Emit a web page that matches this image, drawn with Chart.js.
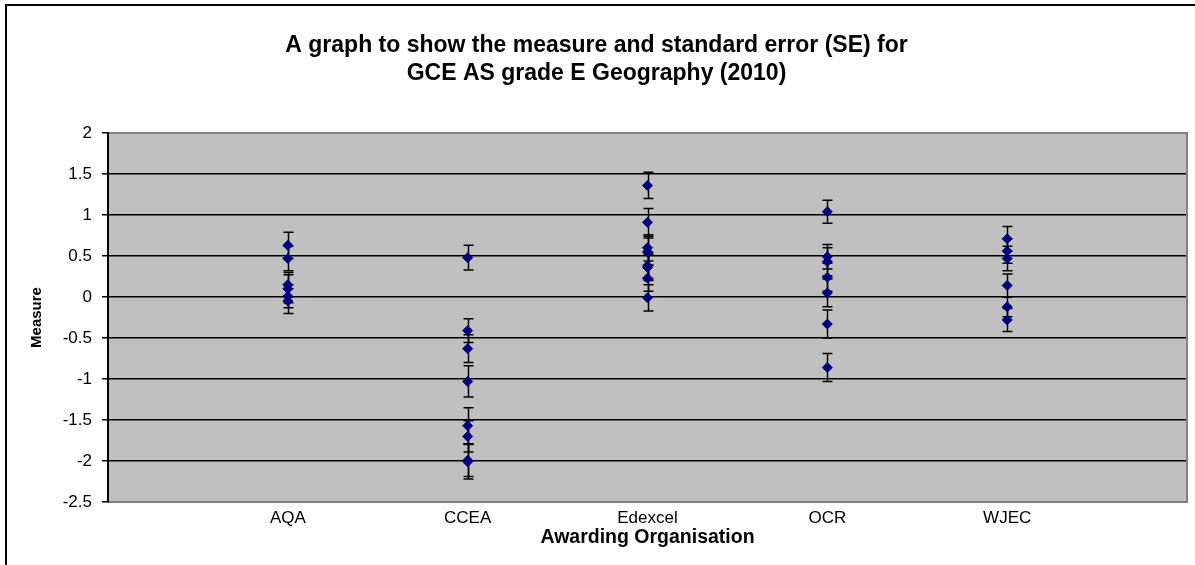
<!DOCTYPE html>
<html lang="en">
<head>
    <meta charset="UTF-8">
    <title>Measure and SE - GCE AS grade E Geography (2010)</title>
    <script src="https://cdn.jsdelivr.net/npm/chart.js"></script>
    <style>
        html, body { margin: 0; padding: 0; background: #fff; }
        #wrap { width: 1195px; height: 565px; }
    </style>
</head>
<body>
    <div id="wrap"><canvas id="seChart"></canvas></div>

    <script>
        // categories (x positions 1..5 on the axis)
        const organisations = ['AQA', 'CCEA', 'Edexcel', 'OCR', 'WJEC'];

        // measure values, one list per organisation
        const aqaMeasure     = [0.63, 0.47, 0.15, 0.10, 0.01, -0.05];
        const ccEaMeasure    = [0.48, -0.41, -0.63, -1.03, -1.57, -1.70, -1.99, -2.01];
        const edexcelMeasure = [1.36, 0.91, 0.60, 0.55, 0.38, 0.36, 0.23, -0.01];
        const ocrMeasure     = [1.04, 0.49, 0.43, 0.24, 0.05, -0.33, -0.86];
        const wjecMeasure    = [0.71, 0.56, 0.47, 0.14, -0.12, -0.28];

        // standard errors, same order as the measures
        const aqaSE     = [0.16, 0.15, 0.15, 0.17, 0.14, 0.15];
        const ccEaSE    = [0.15, 0.145, 0.17, 0.19, 0.22, 0.19, 0.20, 0.21];
        const edexcelSE = [0.16, 0.17, 0.16, 0.17, 0.16, 0.16, 0.16, 0.16];
        const ocrSE     = [0.14, 0.15, 0.17, 0.17, 0.17, 0.17, 0.17];
        const wjecSE    = [0.15, 0.15, 0.15, 0.14, 0.12, 0.14];

        // y axis ticks
        const yMin = -2.5;
        const yMax = 2;
        const yStep = 0.5;

        const measures = [aqaMeasure, ccEaMeasure, edexcelMeasure, ocrMeasure, wjecMeasure];
        const errors = [aqaSE, ccEaSE, edexcelSE, ocrSE, wjecSE];

        const points = [];
        measures.forEach((list, i) => {
            list.forEach((m, j) => {
                points.push({ x: i + 1, y: m, se: errors[i][j] });
            });
        });

        const FONT = "'Liberation Sans', Arial, sans-serif";
        const PLOT_EDGE = '#808080';

        // grey plot background, plot border and outer frame
        const backgroundPlugin = {
            id: 'plotBackground',
            beforeDraw(chart) {
                const { ctx, chartArea: a } = chart;
                ctx.save();
                ctx.fillStyle = '#c0c0c0';
                ctx.fillRect(a.left, a.top, a.right - a.left, a.bottom - a.top);
                // outer frame (only top and left fall inside the picture)
                ctx.strokeStyle = '#000';
                ctx.lineWidth = 2;
                ctx.beginPath();
                ctx.moveTo(6, 600);
                ctx.lineTo(6, 5);
                ctx.lineTo(1300, 5);
                ctx.stroke();
                ctx.restore();
            },
            afterDraw(chart) {
                const { ctx, chartArea: a } = chart;
                ctx.save();
                ctx.strokeStyle = PLOT_EDGE;
                ctx.lineWidth = 2;
                ctx.beginPath();
                ctx.moveTo(a.left + 1, a.top);
                ctx.lineTo(a.right, a.top);
                ctx.lineTo(a.right, a.bottom);
                ctx.stroke();
                ctx.restore();
            }
        };

        // vertical error bars with caps, drawn under the markers
        const errorBarPlugin = {
            id: 'errorBars',
            beforeDatasetsDraw(chart) {
                const { ctx, scales: { x, y } } = chart;
                ctx.save();
                ctx.strokeStyle = '#000';
                ctx.lineWidth = 1.5;
                chart.data.datasets[0].data.forEach(p => {
                    const px = Math.round(x.getPixelForValue(p.x)) + 0.5;
                    const top = y.getPixelForValue(p.y + p.se);
                    const bot = y.getPixelForValue(p.y - p.se);
                    ctx.beginPath();
                    ctx.moveTo(px, top);
                    ctx.lineTo(px, bot);
                    ctx.moveTo(px - 5, top);
                    ctx.lineTo(px + 5, top);
                    ctx.moveTo(px - 5, bot);
                    ctx.lineTo(px + 5, bot);
                    ctx.stroke();
                });
                ctx.restore();
            }
        };

        const config = {
            type: 'scatter',
            data: {
                datasets: [{
                    label: 'Measure',
                    data: points,
                    pointStyle: 'rectRot',
                    radius: 5,
                    hoverRadius: 5,
                    backgroundColor: '#000080',
                    borderColor: '#000080',
                    borderWidth: 1
                }]
            },
            plugins: [backgroundPlugin, errorBarPlugin],
            options: {
                responsive: false,
                animation: false,
                events: [],
                layout: { padding: { left: 6, top: 0, right: 8, bottom: 0 } },
                plugins: {
                    legend: { display: false },
                    tooltip: { enabled: false },
                    title: {
                        display: true,
                        text: ['A graph to show the measure and standard error (SE) for',
                               'GCE AS grade E Geography (2010)'],
                        color: '#000',
                        font: { family: FONT, size: 23, weight: 'bold', lineHeight: 1.217 },
                        padding: { top: 32, bottom: 45 }
                    }
                },
                scales: {
                    x: {
                        type: 'linear',
                        min: 0,
                        max: 6,
                        afterFit(scale) { scale.height = 63; },
                        ticks: {
                            stepSize: 1,
                            autoSkip: false,
                            maxRotation: 0,
                            padding: 6,
                            color: '#000',
                            font: { family: FONT, size: 17 },
                            callback: v => organisations[v - 1] || ''
                        },
                        grid: { display: false, drawTicks: false },
                        border: { display: true, color: PLOT_EDGE, width: 2 },
                        title: {
                            display: true,
                            text: 'Awarding Organisation',
                            color: '#000',
                            font: { family: FONT, size: 19.5, weight: 'bold', lineHeight: 1.2 },
                            padding: { top: 0, bottom: 16 }
                        }
                    },
                    y: {
                        min: yMin,
                        max: yMax,
                        afterFit(scale) { scale.width = 102; },
                        ticks: {
                            stepSize: yStep,
                            padding: 10,
                            color: '#000',
                            font: { family: FONT, size: 17 },
                            callback: v => String(Math.round(v * 10) / 10)
                        },
                        grid: {
                            color: c => (c.tick && (c.tick.value === yMin || c.tick.value === yMax))
                                ? PLOT_EDGE : '#000',
                            lineWidth: 1.5,
                            drawTicks: true,
                            tickLength: 6,
                            tickColor: '#000'
                        },
                        border: { display: true, color: '#000', width: 2 },
                        title: {
                            display: true,
                            text: 'Measure',
                            color: '#000',
                            font: { family: FONT, size: 15, weight: 'bold', lineHeight: 1.2 },
                            padding: { top: 22, bottom: 0 }
                        }
                    }
                }
            }
        };

        const canvas = document.getElementById('seChart');
        canvas.width = 1195;
        canvas.height = 565;
        new Chart(canvas.getContext('2d'), config);
    </script>
</body>
</html>
